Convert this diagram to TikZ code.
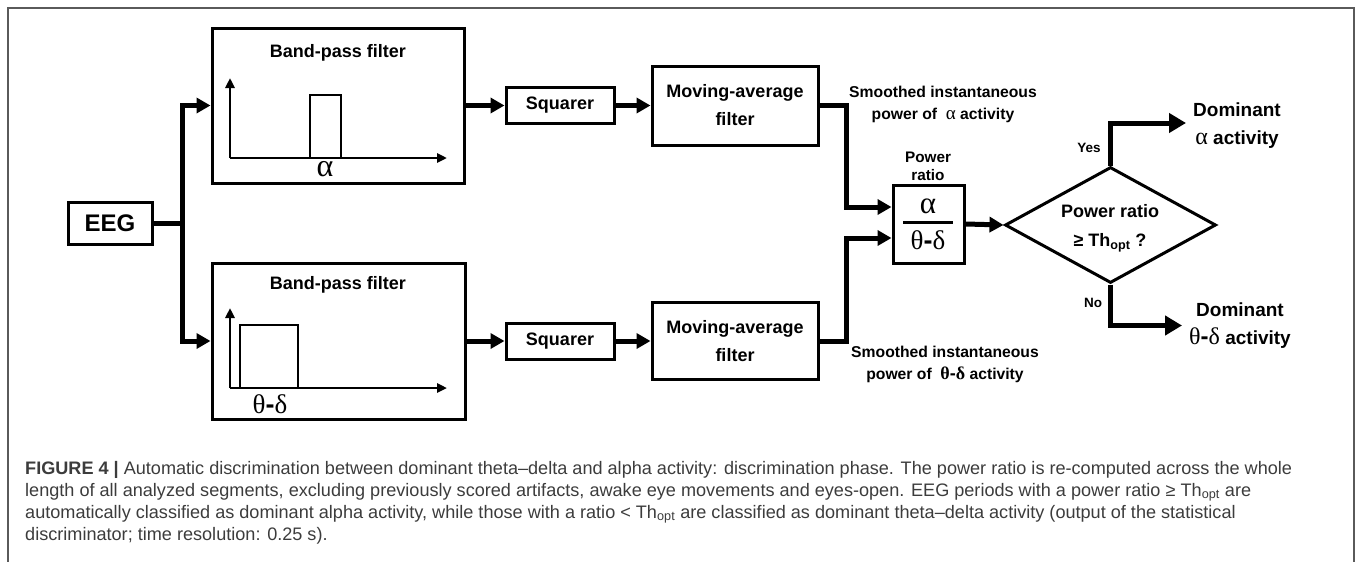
\documentclass[tikz,border=0pt]{standalone}
\usepackage{fontspec}
\setmainfont{Liberation Sans}
\newfontfamily\grk{Liberation Serif}
\usetikzlibrary{arrows.meta,shapes.geometric,calc}
\newcommand\mythd{{\grk θ}{\bfseries -}{\grk δ}}
\definecolor{capgray}{HTML}{3C3C3C}
\definecolor{framegray}{HTML}{5A5A5A}
\begin{document}
\begin{tikzpicture}[x=1pt,y=-1pt,
  box/.style={draw,line width=3pt,inner sep=0pt,align=center,font=\bfseries\fontsize{18}{28}\selectfont},
  title/.style={inner sep=0pt,font=\bfseries\fontsize{18}{22}\selectfont},
  conn/.style={line width=5pt},
  arr/.style={line width=5pt,-{Triangle[length=14pt,width=15pt]}},
  bigarr/.style={line width=5pt,-{Triangle[length=17pt,width=19pt]}},
  axis/.style={line width=2.5pt,-{Triangle[length=10pt,width=9pt]}},
  pulse/.style={line width=2.5pt},
  lbl/.style={font=\bfseries\fontsize{15.7}{22}\selectfont,align=center,inner sep=0pt},
  yn/.style={font=\bfseries\fontsize{13.5}{16}\selectfont,inner sep=0pt},
  outlbl/.style={font=\bfseries\fontsize{19}{28}\selectfont,align=center,inner ysep=0pt,inner xsep=7pt},
  capline/.style={anchor=base west,inner sep=0pt,text=capgray,font=\fontsize{18.1}{22}\selectfont},
  frame/.style={draw=framegray,line width=2pt}
]
\useasboundingbox (0,0) rectangle (1357,562);
\draw[frame] (8,562) -- (8,8) -- (1354,8) -- (1354,562);

% EEG
\node[box,minimum width=84,minimum height=42,font=\bfseries\fontsize{24}{28}\selectfont] (eeg) at (110,223) {EEG};

% top band-pass filter
\node[box,minimum width=252,minimum height=155] (bp1) at (338,105.5) {};
\node[title] (t1) at (338,53) {Band-pass filter};
\coordinate (o1) at (230,158);
\draw[axis] (o1) -- (230,78);
\draw[axis] (o1) -- (447,158);
\draw[pulse] (310,158) rectangle (341,95);
\node[inner sep=0pt,font=\grk\fontsize{32}{32}\selectfont] (a1) at (325,169) {α};

% bottom band-pass filter
\node[box,minimum width=253,minimum height=156] (bp2) at (338.5,341) {};
\node[title] (t2) at (338,285) {Band-pass filter};
\coordinate (o2) at (230,388);
\draw[axis] (o2) -- (230,308);
\draw[axis] (o2) -- (447,388);
\draw[pulse] (240,388) rectangle (298,325);
\node[inner sep=0pt,font=\fontsize{27}{27}\selectfont] (a2) at (270,404) {\mythd};

% squarers and moving-average filters
\node[box,minimum width=108,minimum height=36] (sq1) at (560,105.5) {Squarer};
\node[box,minimum width=108,minimum height=36] (sq2) at (560,341) {Squarer};
\node[box,minimum width=166,minimum height=79] (ma1) at (735,105.5) {Moving-average\\filter};
\node[box,minimum width=166,minimum height=77] (ma2) at (735,341) {Moving-average\\filter};

% power ratio box
\node[draw,line width=3pt,minimum width=71,minimum height=78,inner sep=0pt] (rb) at (928.5,224) {};
\node[inner sep=0pt,font=\grk\fontsize{31}{31}\selectfont] (rnum) at (928,206) {α};
\draw[line width=3pt] (903,222) -- (953,222);
\node[inner sep=0pt,font=\fontsize{27}{27}\selectfont] (rden) at (928,240) {\mythd};
\node[font=\bfseries\fontsize{15.3}{18}\selectfont,align=center,inner sep=0pt] (prl) at (928,166) {Power\\ratio};

% decision diamond
\node[draw,diamond,line width=3pt,minimum width=211,minimum height=116,inner sep=0pt] (dia) at (1110.5,225) {};
\node[font=\bfseries\fontsize{18}{29}\selectfont,align=center,inner sep=0pt] (dt) at (1110,228) {Power ratio\\≥ Th\textsubscript{opt} ?};

% outputs
\node[outlbl] (out1) at (1237,126) {Dominant\\{\mdseries\grk\fontsize{24}{28}\selectfont α} activity};
\node[outlbl] (out2) at (1240,325.5) {Dominant\\{\mdseries\fontsize{24}{28}\selectfont\mythd} activity};
\node[yn] (yes) at (1089,148) {Yes};
\node[yn] (no) at (1093,303) {No};

% smoothed labels
\node[lbl] (sm1) at (943,104) {Smoothed instantaneous\\power of~ {\mdseries\grk\fontsize{19}{22}\selectfont α} activity};
\node[lbl] (sm2) at (945,364) {Smoothed instantaneous\\power of~ {\fontsize{18}{22}\selectfont\mythd} activity};

% connectors
\coordinate (jn) at (182,223);
\coordinate (v1) at (846,0);
\draw[conn] (eeg.east) -- (jn);
\draw[arr] (jn) |- (bp1.west);
\draw[arr] (jn) |- (bp2.west);
\draw[arr] (bp1.east) -- (sq1.west);
\draw[arr] (sq1.east) -- (ma1.west);
\draw[arr] (bp2.east) -- (sq2.west);
\draw[arr] (sq2.east) -- (ma2.west);
\draw[arr] (ma1.east) -- (ma1.east -| v1) |- ([yshift=17pt]rb.west);
\draw[arr] (ma2.east) -- (ma2.east -| v1) |- ([yshift=-14pt]rb.west);
\draw[arr] (rb.east) -- (dia.west);
\draw[bigarr] (dia.north) |- ([yshift=3pt]out1.west);
\draw[bigarr] (dia.south) |- (out2.west);

% caption
\node[capline] (cap1) at (25,474) {\textbf{FIGURE 4 |} Automatic discrimination between dominant theta–delta and alpha activity: discrimination phase. The power ratio is re-computed across the whole};
\node[capline] (cap2) at (25,496) {length of all analyzed segments, excluding previously scored artifacts, awake eye movements and eyes-open. EEG periods with a power ratio ≥ Th\textsubscript{opt} are};
\node[capline] (cap3) at (25,518) {automatically classified as dominant alpha activity, while those with a ratio < Th\textsubscript{opt} are classified as dominant theta–delta activity (output of the statistical};
\node[capline] (cap4) at (25,540) {discriminator; time resolution: 0.25 s).};
\end{tikzpicture}
\end{document}
